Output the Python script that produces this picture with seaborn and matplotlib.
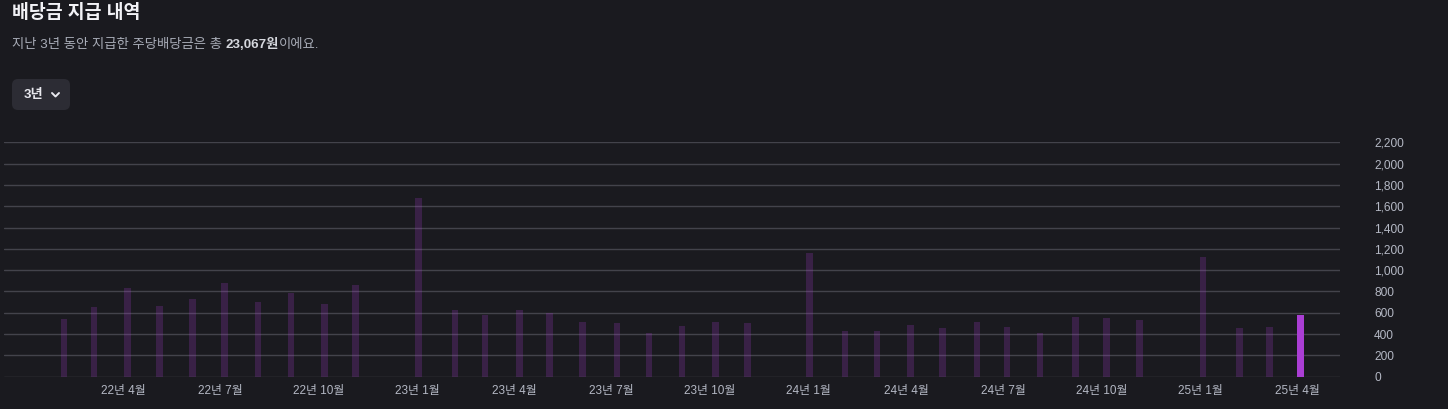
import pandas as pd
import numpy as np
import matplotlib
matplotlib.use('Agg')
import matplotlib.pyplot as plt
import matplotlib.dates as mdates
from matplotlib.patches import FancyBboxPatch
from matplotlib.lines import Line2D
from matplotlib.transforms import IdentityTransform
import seaborn as sns

# ── DATA ────────────────────────────────────────────────────────
pay_dates = ["2022-02-05", "2022-03-05", "2022-04-05", "2022-05-05", "2022-06-05",
             "2022-07-05", "2022-08-05", "2022-09-05", "2022-10-06", "2022-11-04",
             "2023-01-02", "2023-02-05", "2023-03-05", "2023-04-06", "2023-05-04",
             "2023-06-04", "2023-07-06", "2023-08-05", "2023-09-05", "2023-10-06",
             "2023-11-05", "2024-01-02", "2024-02-04", "2024-03-05", "2024-04-05",
             "2024-05-05", "2024-06-06", "2024-07-04", "2024-08-04", "2024-09-06",
             "2024-10-05", "2024-11-05", "2025-01-03", "2025-02-06", "2025-03-06",
             "2025-04-04"]
dividends = [541, 653, 832, 663, 732, 879, 701, 789, 682, 861,
             1677, 626, 579, 626, 597, 513, 507, 410, 476, 513,
             507, 1158, 426, 426, 488, 460, 510, 466, 410, 563,
             554, 532, 1126, 457, 463, 579]
tick_months = ["2022-04-01", "2022-07-01", "2022-10-01", "2023-01-01", "2023-04-01",
               "2023-07-01", "2023-10-01", "2024-01-01", "2024-04-01", "2024-07-01",
               "2024-10-01", "2025-01-01", "2025-04-01"]
y_ticks = list(range(0, 2201, 200))
title = "배당금 지급 내역"
sub_parts = ["지난 3년 동안 지급한 주당배당금은 총 ", "23,067원", "이에요."]
period_label = "3년"

# ── STYLE ───────────────────────────────────────────────────────
BG = '#1a1a1f'
GRID = '#43434b'
PURPLE = '#aa3ed4'
TICK = '#b4b8c4'

sns.set_theme(style='dark', rc={'axes.facecolor': BG, 'figure.facecolor': BG})
plt.rcParams['font.family'] = ['Liberation Sans', 'Noto Sans CJK KR', 'DejaVu Sans']

df = pd.DataFrame({'date': pd.to_datetime(pay_dates), 'amount': dividends})
df['x'] = mdates.date2num(df['date'])
df['latest'] = df['date'] == df['date'].max()

W, H = 1448, 409
fig = plt.figure(figsize=(W / 100, H / 100), dpi=100)
ax = fig.add_axes([4 / W, 32.3 / H, 1336 / W, 234.4 / H])

sns.barplot(data=df, x='x', y='amount', native_scale=True, color=PURPLE,
            saturation=1, width=0.22, linewidth=0, ax=ax)
# older payments are dimmed, only the latest one is highlighted
for p, latest in zip(ax.patches, df['latest']):
    p.set_alpha(1.0 if latest else 0.22)

ax.set_xlim(mdates.date2num(pd.Timestamp("2021-12-11")),
            mdates.date2num(pd.Timestamp("2025-05-11")))
ax.set_ylim(0, 2200)
ax.set_yticks(y_ticks)
ax.set_yticklabels([f"{v:,}" for v in y_ticks])
tick_dt = pd.to_datetime(tick_months)
ax.set_xticks(mdates.date2num(tick_dt))
ax.set_xticklabels([f"{d.year % 100}년 {d.month}월" for d in tick_dt])
ax.set_xlabel('')
ax.set_ylabel('')

ax.yaxis.tick_right()
ax.tick_params(axis='y', length=0, pad=24.5, labelsize=8.6, labelcolor=TICK)
ax.tick_params(axis='x', length=0, pad=6, labelsize=8.5, labelcolor=TICK)
ax.grid(axis='y', color=GRID, linewidth=1)
ax.grid(axis='x', visible=False)
ax.set_axisbelow(True)
for s in ax.spines.values():
    s.set_visible(False)

# ── HEADER ──────────────────────────────────────────────────────
def fy(py):
    return (H - py) / H

fig.text(12 / W, fy(13.5), title, fontsize=13.2, fontweight='bold',
         color='#f2f2f6', va='center', ha='left')

fig.canvas.draw()
renderer = fig.canvas.get_renderer()
x_px = 12
for part, bold, col in zip(sub_parts, [False, True, False],
                           ['#a8acb7', '#d6d8de', '#a8acb7']):
    t = fig.text(x_px / W, fy(45), part, fontsize=9.6,
                 fontweight='bold' if bold else 'normal',
                 color=col, va='center', ha='left')
    x_px = t.get_window_extent(renderer).x1

# period selector button
btn = FancyBboxPatch((12, H - 110), 58, 31, boxstyle='round,pad=0,rounding_size=6',
                     transform=IdentityTransform(), facecolor='#2c2c34',
                     edgecolor='none')
fig.patches.append(btn)
fig.text(24 / W, fy(95), period_label, fontsize=9.5, fontweight='bold',
         color='#e8e8ee', va='center', ha='left')
fig.add_artist(Line2D([52, 55.5, 59], [H - 93, H - 96.5, H - 93],
                      transform=IdentityTransform(), color='#e8e8ee',
                      linewidth=1.4, solid_capstyle='round'))

fig.savefig('out.png', dpi=100, facecolor=BG)
